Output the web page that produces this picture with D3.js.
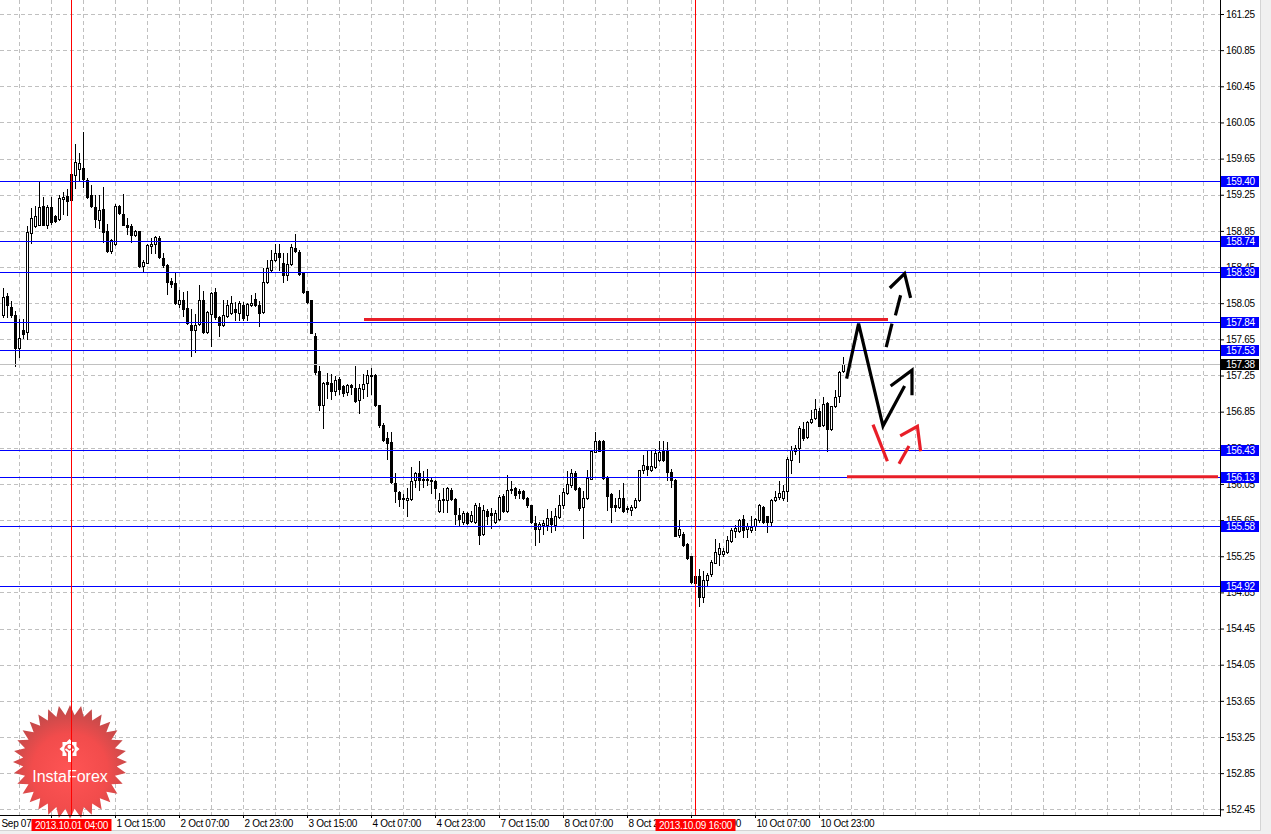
<!DOCTYPE html>
<html><head><meta charset="utf-8">
<script src="https://cdn.jsdelivr.net/npm/d3@7"></script>
<style>
html,body{margin:0;padding:0;background:#f0f0f0;overflow:hidden}
svg{display:block}
text{font-family:"Liberation Sans",Arial,sans-serif}
</style></head><body>
<svg id="c" width="1271" height="834"></svg>
<script>
// ---- data (USD/JPY-style H1 candles) ----
const opens=[157.92,158.13,158.01,157.92,157.55,157.75,157.73,158.83,158.90,158.92,159.13,158.92,159.11,159.01,158.98,159.20,159.24,159.19,159.47,159.54,
159.55,159.41,159.25,159.11,158.97,159.09,158.85,158.63,158.71,159.13,159.04,158.92,158.90,158.81,158.85,158.46,158.50,158.68,158.71,158.77,
158.55,158.47,158.30,158.27,158.04,158.08,158.00,157.81,157.75,157.82,158.09,157.73,157.93,158.17,157.90,157.81,157.91,157.94,157.99,157.94,
158.03,157.92,158.03,158.10,158.03,157.95,158.28,158.42,158.53,158.60,158.50,158.36,158.48,158.66,158.62,158.39,158.18,158.08,157.69,157.30,
156.92,157.18,157.17,157.08,157.21,157.13,157.07,157.14,157.11,156.98,157.10,157.17,157.25,157.26,156.92,156.70,156.56,156.51,156.06,155.96,
155.90,155.87,155.88,156.09,156.17,156.10,156.09,156.09,156.08,155.75,155.87,155.87,155.98,155.88,155.71,155.63,155.73,155.64,155.63,155.80,
155.50,155.75,155.73,155.63,155.66,155.92,155.75,155.99,156.00,155.97,155.97,155.89,155.82,155.62,155.55,155.60,155.60,155.67,155.60,155.68,
155.82,155.95,156.04,156.17,156.00,155.80,155.89,156.11,156.40,156.52,156.52,156.12,155.94,155.82,155.79,155.90,155.78,155.76,155.79,155.87,
156.20,156.25,156.20,156.24,156.31,156.41,156.41,156.18,156.09,155.48,155.50,155.39,155.25,155.03,155.03,154.80,154.99,155.05,155.18,155.28,
155.28,155.30,155.42,155.53,155.53,155.66,155.55,155.54,155.58,155.65,155.80,155.69,155.63,155.87,155.91,155.90,155.97,156.32,156.41,156.45,
156.66,156.57,156.73,156.78,156.86,156.70,156.95,156.66,156.91,157.02,157.30];
const highs=[158.22,158.16,158.07,157.96,157.88,157.88,158.90,159.10,159.13,159.40,159.23,159.14,159.23,159.03,159.25,159.28,159.31,159.49,159.81,159.71,
159.94,159.43,159.36,159.25,159.25,159.34,158.93,158.76,159.15,159.14,159.26,158.99,158.93,158.86,158.85,158.53,158.71,158.77,158.79,158.79,
158.60,158.48,158.33,158.40,158.20,158.17,158.18,157.99,157.93,158.25,158.19,157.96,158.17,158.22,157.91,158.09,158.09,158.13,158.06,158.07,
158.06,158.05,158.14,158.16,158.07,158.44,158.53,158.64,158.71,158.71,158.61,158.61,158.71,158.82,158.64,158.40,158.19,158.09,157.72,157.35,
157.18,157.28,157.27,157.24,157.23,157.15,157.16,157.16,157.35,157.16,157.27,157.31,157.33,157.27,156.92,156.72,156.62,156.62,156.17,155.97,
155.94,156.00,156.24,156.18,156.30,156.19,156.21,156.12,156.09,155.95,156.00,156.02,156.00,155.89,155.78,155.75,155.74,155.75,155.84,155.84,
155.82,155.77,155.78,155.76,155.93,155.94,156.15,156.08,156.02,155.99,155.98,155.91,155.82,155.70,155.63,155.65,155.77,155.75,155.78,155.93,
156.00,156.19,156.21,156.19,156.02,155.97,156.20,156.42,156.62,156.54,156.54,156.14,155.95,155.89,155.98,156.06,155.81,155.82,155.90,156.20,
156.37,156.42,156.43,156.44,156.52,156.52,156.51,156.22,156.11,155.65,155.52,155.40,155.25,155.09,155.11,155.09,155.07,155.21,155.44,155.40,
155.34,155.47,155.56,155.60,155.66,155.71,155.62,155.70,155.67,155.83,155.81,155.70,155.88,155.97,156.08,156.04,156.35,156.47,156.48,156.69,
156.74,156.75,156.87,156.99,156.89,157.01,156.96,156.91,157.09,157.30,157.46];
const lows=[157.90,157.90,157.90,157.35,157.46,157.66,157.65,158.72,158.89,158.91,158.91,158.88,158.93,158.95,158.97,159.04,159.03,159.18,159.32,159.41,
159.34,159.21,159.11,158.89,158.88,158.73,158.62,158.61,158.69,159.04,158.91,158.82,158.73,158.79,158.45,158.41,158.49,158.60,158.60,158.55,
158.45,158.15,158.23,158.04,158.01,157.91,157.82,157.47,157.51,157.81,157.72,157.72,157.58,157.88,157.69,157.80,157.90,157.93,157.86,157.86,
157.86,157.86,158.02,158.02,157.80,157.94,158.27,158.41,158.52,158.42,158.29,158.31,158.47,158.62,158.36,158.16,158.05,157.72,157.27,156.87,
156.67,157.00,156.99,157.03,157.05,157.02,157.03,157.05,156.96,156.83,157.00,157.02,157.05,156.91,156.68,156.53,156.33,156.06,155.85,155.81,
155.78,155.69,155.87,156.02,155.98,156.02,156.04,155.95,155.89,155.74,155.74,155.74,155.87,155.61,155.58,155.61,155.61,155.63,155.62,155.39,
155.49,155.61,155.56,155.62,155.65,155.74,155.74,155.95,155.90,155.89,155.88,155.80,155.62,155.38,155.41,155.50,155.54,155.52,155.54,155.67,
155.78,155.94,156.02,155.98,155.76,155.45,155.88,156.10,156.40,156.41,156.11,155.76,155.63,155.75,155.78,155.74,155.74,155.71,155.78,155.86,
156.17,156.15,156.19,156.23,156.30,156.30,156.09,156.02,155.47,155.46,155.36,155.22,154.95,154.94,154.70,154.74,154.93,155.03,155.17,155.15,
155.25,155.29,155.41,155.46,155.52,155.46,155.46,155.52,155.54,155.63,155.62,155.52,155.60,155.86,155.88,155.87,155.86,156.17,156.38,156.29,
156.54,156.56,156.72,156.77,156.69,156.69,156.42,156.65,156.90,156.96,157.29];
const closes=[158.12,158.03,157.92,157.55,157.66,157.71,158.84,158.99,159.01,159.11,158.92,159.11,158.95,158.96,159.21,159.22,159.18,159.48,159.61,159.60,
159.42,159.23,159.12,158.98,159.08,158.84,158.63,158.75,159.13,159.05,158.92,158.89,158.81,158.85,158.46,158.51,158.69,158.71,158.78,158.56,
158.47,158.29,158.26,158.05,158.09,157.99,157.83,157.75,157.81,158.08,157.73,157.95,158.16,157.90,157.81,157.92,158.03,158.05,157.95,158.05,
157.89,158.04,158.05,158.03,157.94,158.29,158.44,158.53,158.60,158.56,158.36,158.48,158.67,158.63,158.37,158.17,158.06,157.72,157.29,156.92,
157.17,157.16,157.08,157.20,157.10,157.06,157.14,157.12,156.97,157.11,157.16,157.26,157.26,156.92,156.70,156.54,156.50,156.07,155.97,155.88,
155.88,155.89,156.08,156.17,156.09,156.09,156.11,156.08,156.01,155.87,155.88,156.00,155.88,155.72,155.66,155.73,155.62,155.71,155.82,155.49,
155.76,155.70,155.71,155.73,155.91,155.75,155.98,155.98,155.93,155.95,155.89,155.82,155.63,155.55,155.61,155.62,155.67,155.61,155.70,155.82,
155.96,156.05,156.17,155.99,155.78,155.90,156.12,156.41,156.53,156.42,156.12,155.92,155.80,155.80,155.90,155.75,155.77,155.80,155.87,156.20,
156.26,156.22,156.25,156.39,156.40,156.32,156.18,156.09,155.47,155.55,155.37,155.23,154.96,154.95,154.80,154.99,155.04,155.19,155.30,155.34,
155.31,155.43,155.54,155.56,155.65,155.54,155.58,155.57,155.66,155.82,155.63,155.63,155.87,155.91,155.95,155.97,156.33,156.43,156.45,156.67,
156.56,156.74,156.77,156.88,156.69,156.94,156.66,156.91,157.01,157.29,157.38];

const priceTicks=[161.25,160.85,160.45,160.05,159.65,159.25,158.85,158.45,158.05,157.65,157.25,156.85,156.45,156.05,155.65,155.25,154.85,154.45,154.05,153.65,153.25,152.85,152.45];
const timeTickIndex=[-4,12,28,44,60,76,92,108,124,140,156,172,188,204];
const timeTickLabels=["30 Sep 07:00","30 Sep 23:00","1 Oct 15:00","2 Oct 07:00","2 Oct 23:00","3 Oct 15:00","4 Oct 07:00","4 Oct 23:00","7 Oct 15:00","8 Oct 07:00","8 Oct 23:00","9 Oct 15:00","10 Oct 07:00","10 Oct 23:00"];

const levelPrices=[159.40,158.74,158.39,157.84,157.53,156.43,156.13,155.58,154.92];
const bidPrice=157.38;
const markerIndex=[17,173];
const markerLabels=["2013.10.01 04:00","2013.10.09 16:00"];

// red trend levels: [startIndex, endIndex, price]
const redLevelStart=[90.25,211];
const redLevelEnd=[221.25,303.75];
const redLevelPrice=[157.87,156.13];

// hand-drawn scenario arrows, points as [barIndex, price]
const blackPath=[[210.9,157.215],[213.9,157.823],[220.0,156.691],[225.4,157.134]];
const blackHead=[[221.9,157.134],[227.25,157.308],[227.25,157.031]];
const blackDash1=[[220.8,157.565],[222.25,157.823]];
const blackDash2=[[223.1,157.916],[224.4,158.138]];
const blackDashHead=[[221.7,158.218],[225.4,158.377],[226.9,158.108]];
const redDash1=[[217.5,156.706],[221.1,156.301]];
const redDash2=[[224.0,156.274],[226.5,156.470]];
const redHead=[[224.3,156.581],[228.6,156.688],[229.4,156.411]];

// ---- layout ----
const W=1220, H=816;
const svg=d3.select("#c");
const x=d3.scaleLinear().domain([-0.75,304.25]).range([0,W]);
const y=d3.scaleLinear().domain([152.45,161.25]).range([809.3,14]);
const px=v=>Math.round(x(v));
const py=v=>Math.round(y(v));

// background
svg.append("rect").attr("x",0).attr("y",0).attr("width",1260).attr("height",830).attr("fill","#ffffff");
svg.append("line").attr("x1",1260.5).attr("x2",1260.5).attr("y1",0).attr("y2",830.5).attr("stroke","#d4d4d4");
svg.append("line").attr("x1",0).attr("x2",1260.5).attr("y1",830.5).attr("y2",830.5).attr("stroke","#d4d4d4");

const defs=svg.append("defs");
defs.append("clipPath").attr("id","plot").append("rect").attr("x",0).attr("y",0).attr("width",W).attr("height",H);
const rg=defs.append("radialGradient").attr("id","badge").attr("cx","50%").attr("cy","58%").attr("r","55%");
rg.append("stop").attr("offset","0%").attr("stop-color","#ff5454");
rg.append("stop").attr("offset","60%").attr("stop-color","#f24c4c");
rg.append("stop").attr("offset","100%").attr("stop-color","#c24a4a");

const plot=svg.append("g").attr("clip-path","url(#plot)");

// grid
const gridC="#c0c0c0";
plot.append("g").selectAll("line").data(priceTicks).join("line")
  .attr("x1",0).attr("x2",W).attr("y1",d=>py(d)+0.5).attr("y2",d=>py(d)+0.5)
  .attr("stroke",gridC).attr("stroke-dasharray","4,3");
plot.append("g").selectAll("line").data(d3.range(4,304,8)).join("line")
  .attr("x1",d=>px(d)+0.5).attr("x2",d=>px(d)+0.5).attr("y1",0).attr("y2",H)
  .attr("stroke",gridC).attr("stroke-dasharray","4,3");

// logo badge
const logo=svg.append("g").attr("transform","translate(70,762)");
const nSp=32, Ro=57, Ri=47;
const star=d3.range(nSp*2).map(k=>{const a=Math.PI*k/nSp - Math.PI/2; const r=k%2?Ri:Ro; return [r*Math.cos(a), r*Math.sin(a)];});
logo.append("path").attr("d","M"+star.join("L")+"Z").attr("fill","url(#badge)");
// gear icon
const gear=logo.append("g").attr("transform","translate(-0.5,-13)");
const gt=d3.range(16).map(k=>{const a=Math.PI*2*k/16; const r=(Math.floor(k/1)%2)?7.5:10; return [r*Math.cos(a), r*Math.sin(a)];});
gear.append("path").attr("d","M"+gt.join("L")+"Z").attr("fill","#fff");
gear.append("circle").attr("r",5.2).attr("fill","#f14e4e");
gear.append("rect").attr("x",-3).attr("y",4).attr("width",6).attr("height",8).attr("fill","#f14e4e");
gear.append("circle").attr("cx",0).attr("cy",-2.2).attr("r",2.1).attr("fill","#fff");
gear.append("path").attr("d","M-4,0 L0,3 L4,0").attr("fill","none").attr("stroke","#fff").attr("stroke-width",1.8);
gear.append("rect").attr("x",-1.5).attr("y",2).attr("width",3).attr("height",11).attr("fill","#fff");
logo.append("text").attr("x",0).attr("y",20).attr("text-anchor","middle").attr("fill","#fff")
  .attr("font-size",16).text("InstaForex");

// candles
const idx=d3.range(opens.length);
const gc=plot.append("g");
gc.selectAll("line").data(idx).join("line")
  .attr("x1",i=>px(i)+0.5).attr("x2",i=>px(i)+0.5)
  .attr("y1",i=>py(highs[i])).attr("y2",i=>py(lows[i])+1)
  .attr("stroke","#000");
gc.selectAll("rect").data(idx).join("rect")
  .attr("x",i=>px(i)-0.5).attr("width",2)
  .attr("y",i=>py(Math.max(opens[i],closes[i]))+0.5)
  .attr("height",i=>Math.max(1,py(Math.min(opens[i],closes[i]))-py(Math.max(opens[i],closes[i]))))
  .attr("fill",i=>closes[i]>=opens[i]?"#fff":"#000").attr("stroke","#000");

// bid line
plot.append("line").attr("x1",0).attr("x2",W).attr("y1",py(bidPrice)+0.5).attr("y2",py(bidPrice)+0.5).attr("stroke","#c0c0c0");

// blue levels
plot.append("g").selectAll("line").data(levelPrices).join("line")
  .attr("x1",0).attr("x2",W).attr("y1",d=>py(d)+0.5).attr("y2",d=>py(d)+0.5).attr("stroke","#0000ff");

// red trend levels
plot.append("g").selectAll("line").data(redLevelPrice).join("line")
  .attr("x1",(d,i)=>x(redLevelStart[i])).attr("x2",(d,i)=>x(redLevelEnd[i]))
  .attr("y1",d=>y(d)).attr("y2",d=>y(d)).attr("stroke","#e81e28").attr("stroke-width",3);

// arrows
const ln=d3.line().x(d=>x(d[0])).y(d=>y(d[1]));
const drawP=(pts,col)=>plot.append("path").attr("d",ln(pts)).attr("fill","none").attr("stroke",col)
  .attr("stroke-width",3.2).attr("stroke-linejoin","miter").attr("stroke-linecap","butt");
[blackPath,blackHead,blackDash1,blackDash2,blackDashHead].forEach(p=>drawP(p,"#000"));
[redDash1,redDash2,redHead].forEach(p=>drawP(p,"#e81e28"));

// vertical time markers
svg.append("g").selectAll("line").data(markerIndex).join("line")
  .attr("x1",d=>px(d)+0.5).attr("x2",d=>px(d)+0.5).attr("y1",0).attr("y2",H)
  .attr("stroke","#ff0000");

// axes
const fs=10;
const ax=svg.append("g");
ax.append("line").attr("x1",W+0.5).attr("x2",W+0.5).attr("y1",0).attr("y2",H+0.5).attr("stroke","#000");
ax.append("line").attr("x1",0).attr("x2",W+0.5).attr("y1",H-0.5).attr("y2",H-0.5).attr("stroke","#000");

const yAxis=d3.axisRight(y).tickValues(priceTicks).tickSize(4).tickPadding(2).tickFormat(d3.format(".2f"));
const ya=svg.append("g").attr("transform",`translate(${W},0)`).call(yAxis);
ya.select(".domain").remove();
ya.selectAll("text").attr("font-size",fs).attr("letter-spacing","-0.3").attr("font-family","Liberation Sans").attr("fill","#000");

const xAxis=d3.axisBottom(x).tickValues(timeTickIndex).tickSize(3).tickPadding(2).tickFormat((d,i)=>timeTickLabels[i]);
const xa=svg.append("g").attr("transform",`translate(0,${H-1})`).call(xAxis);
xa.select(".domain").remove();
xa.selectAll("text").attr("text-anchor","start").attr("x",1).attr("font-size",fs).attr("letter-spacing","-0.3").attr("font-family","Liberation Sans").attr("fill","#000");

// level labels (boxes)
const lab=svg.append("g");
const addBox=(p,bg)=>{
  const yy=py(p);
  lab.append("rect").attr("x",1221).attr("y",yy-5).attr("width",38).attr("height",11).attr("fill",bg);
  lab.append("text").attr("x",1226).attr("y",yy+4).attr("fill","#fff").attr("font-size",fs).attr("letter-spacing","-0.3").text(d3.format(".2f")(p));
};
levelPrices.forEach(p=>addBox(p,"#0000ff"));
addBox(bidPrice,"#000");

// time marker labels
markerIndex.forEach((m,i)=>{
  const cx=px(m)+0.5;
  lab.append("rect").attr("x",cx-40).attr("y",819).attr("width",80).attr("height",12).attr("fill","#ff0000");
  lab.append("text").attr("x",cx).attr("y",828.5).attr("text-anchor","middle").attr("fill","#fff").attr("font-size",fs).attr("letter-spacing","-0.3").text(markerLabels[i]);
});
</script>
</body></html>
